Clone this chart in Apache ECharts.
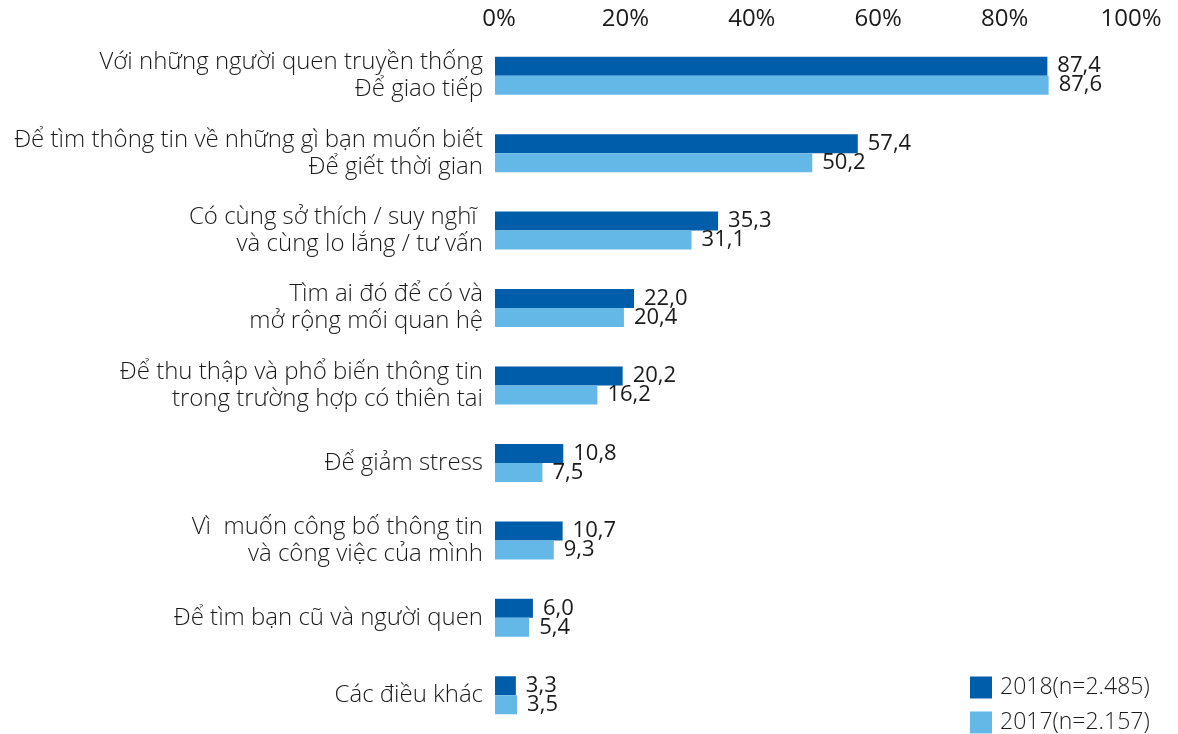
<!DOCTYPE html>
<html>
<head>
<meta charset="utf-8">
<script src="https://cdn.jsdelivr.net/npm/echarts@6/dist/echarts.min.js"></script>
<style>
  html, body { margin: 0; padding: 0; background: #fff; }
  #chart { width: 1178px; height: 734px; }
</style>
</head>
<body>
<div id="chart"></div>
<script>
// Reasons for using social networks, share of respondents (%)
const categories = [
  'Với những người quen truyền thống\nĐể giao tiếp',
  'Để tìm thông tin về những gì bạn muốn biết\nĐể giết thời gian',
  'Có cùng sở thích / suy nghĩ \nvà cùng lo lắng / tư vấn',
  'Tìm ai đó để có và\nmở rộng mối quan hệ',
  'Để thu thập và phổ biến thông tin\ntrong trường hợp có thiên tai',
  'Để giảm stress',
  'Vì  muốn công bố thông tin\nvà công việc của mình',
  'Để tìm bạn cũ và người quen',
  'Các điều khác'
];
const values2018 = [87.4, 57.4, 35.3, 22.0, 20.2, 10.8, 10.7, 6.0, 3.3];
const values2017 = [87.6, 50.2, 31.1, 20.4, 16.2, 7.5, 9.3, 5.4, 3.5];
const seriesNames = ['2018(n=2.485)', '2017(n=2.157)'];
const tickValues = [0, 20, 40, 60, 80, 100];

const DARK = '#005DAA';
const LIGHT = '#63B8E8';
const fmt = v => v.toFixed(1).replace('.', ',');

const valueLabel = {
  show: true,
  position: 'right',
  distance: 10,
  color: '#1a1a1a',
  fontFamily: 'Open Sans',
  fontSize: 22,
  formatter: p => fmt(p.value)
};

const chart = echarts.init(document.getElementById('chart'), null, { renderer: 'canvas' });
chart.setOption({
  animation: false,
  backgroundColor: '#ffffff',
  grid: { left: 495, right: 51, top: 37, height: 709, containLabel: false },
  legend: {
    orient: 'vertical',
    left: 970,
    top: 676,
    padding: 0,
    itemWidth: 22,
    itemHeight: 22,
    itemGap: 12,
    icon: 'rect',
    textStyle: { color: '#1a1a1a', fontFamily: 'Open Sans', fontWeight: 300, fontSize: 23, padding: [0, 0, 0, 3] },
    data: seriesNames
  },
  xAxis: {
    type: 'value',
    position: 'top',
    min: 0,
    max: 100,
    interval: 20,
    axisLine: { show: false },
    axisTick: { show: false },
    splitLine: { show: false },
    axisLabel: {
      margin: 6,
      color: '#1a1a1a',
      fontFamily: 'Open Sans',
      fontSize: 24,
      padding: [0, 0, 0, 8],
      formatter: v => tickValues.includes(v) ? v + '%' : ''
    }
  },
  yAxis: {
    type: 'category',
    inverse: true,
    data: categories,
    axisLine: { show: false },
    axisTick: { show: false },
    axisLabel: {
      margin: 12,
      color: '#1a1a1a',
      fontFamily: 'Open Sans',
      fontWeight: 300,
      fontSize: 24,
      lineHeight: 27,
      align: 'right'
    }
  },
  series: [
    {
      name: seriesNames[0],
      type: 'bar',
      data: values2018,
      barWidth: 19,
      barGap: '0%',
      itemStyle: { color: DARK },
      label: valueLabel
    },
    {
      name: seriesNames[1],
      type: 'bar',
      data: values2017,
      barWidth: 19,
      barGap: '0%',
      itemStyle: { color: LIGHT },
      label: valueLabel
    }
  ]
});
</script>
</body>
</html>
